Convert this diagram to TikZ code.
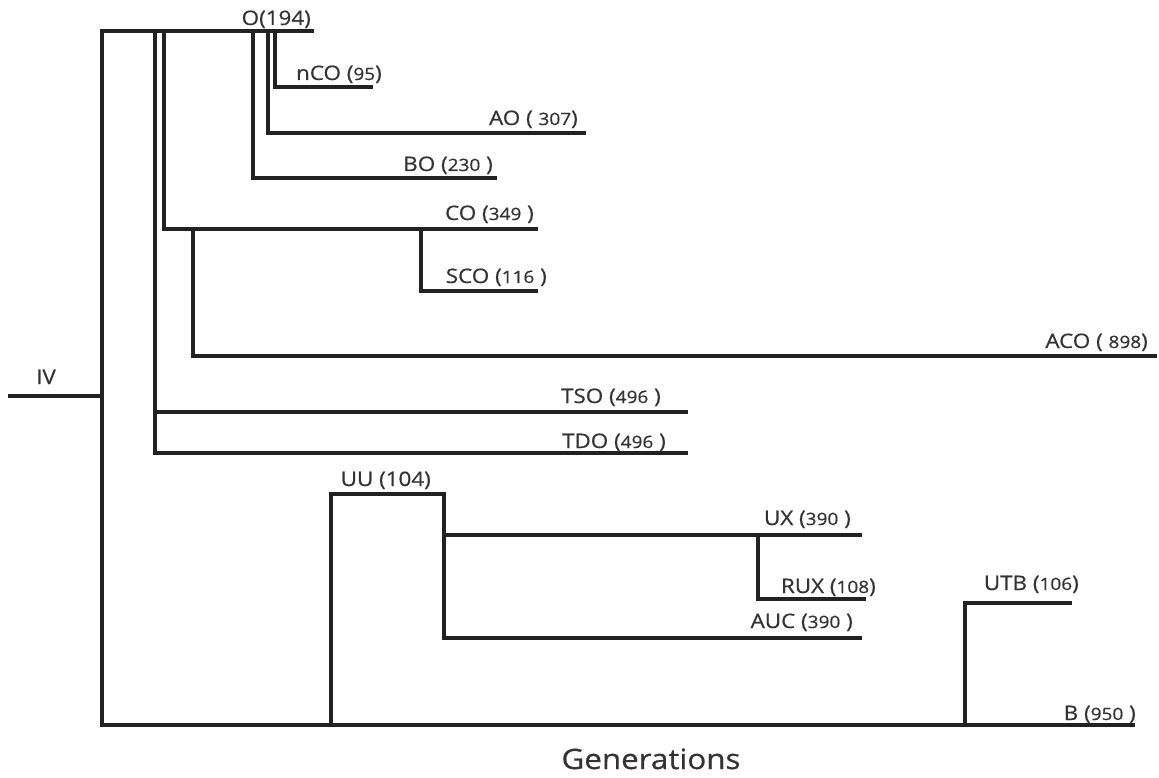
\documentclass[tikz,border=0pt]{standalone}
\usepackage{fontspec}
\setmainfont{Open Sans}
\newfontfamily\lab[FakeStretch=1.12,FakeBold=0.6]{Open Sans}
\definecolor{ln}{HTML}{222222}
\definecolor{tx}{HTML}{333333}
\newcommand{\smn}[1]{{\fontsize{17}{19}\selectfont #1}}
\begin{document}
\begin{tikzpicture}[x=1pt,y=-1pt,
  br/.style={draw=ln,line width=3.2pt,line join=miter},
  lbl/.style={font=\lab\fontsize{20}{23}\selectfont,text=tx,anchor=base east,inner sep=0pt},
  ttl/.style={font=\lab\fontsize{28}{32}\selectfont,text=tx,anchor=base,inner sep=0pt}]
\useasboundingbox (0,0) rectangle (1159,778);
% coordinates
\coordinate (ivs) at (8,396);
\coordinate (ivj) at (102,396);
\coordinate (rt) at (102,31);
\coordinate (rb) at (102,725);
\coordinate (oe) at (314,31);
\coordinate (be) at (1135,725);
\coordinate (t1) at (155,31);
\coordinate (tsoj) at (155,412);
\coordinate (tsoe) at (688,412);
\coordinate (tdoj) at (155,453);
\coordinate (tdoe) at (688,453);
\coordinate (t2) at (164,31);
\coordinate (coj) at (164,229);
\coordinate (coe) at (538,229);
\coordinate (acot) at (193,229);
\coordinate (acoj) at (193,356);
\coordinate (acoe) at (1157,356);
\coordinate (scot) at (421,229);
\coordinate (scoj) at (421,291);
\coordinate (scoe) at (538,291);
\coordinate (t3) at (253,31);
\coordinate (boj) at (253,178);
\coordinate (boe) at (497,178);
\coordinate (t4) at (268,31);
\coordinate (aoj) at (268,133);
\coordinate (aoe) at (586,133);
\coordinate (t5) at (275,31);
\coordinate (ncoj) at (275,87);
\coordinate (ncoe) at (373,87);
\coordinate (uub) at (331,725);
\coordinate (uul) at (331,494);
\coordinate (uur) at (444,494);
\coordinate (aucj) at (444,638);
\coordinate (auce) at (862,638);
\coordinate (uxj) at (444,535);
\coordinate (uxe) at (862,535);
\coordinate (ruxt) at (758,535);
\coordinate (ruxj) at (758,599);
\coordinate (ruxe) at (866,599);
\coordinate (utbb) at (965,725);
\coordinate (utbj) at (965,603);
\coordinate (utbe) at (1072,603);
% branches
\draw[br] (ivs) -- (ivj);
\draw[br] (oe) -- (rt) -- (rb) -- (be);
\draw[br] (t1) -- (tdoj) -- (tdoe);
\draw[br] (tsoj) -- (tsoe);
\draw[br] (t2) -- (coj) -- (coe);
\draw[br] (acot) -- (acoj) -- (acoe);
\draw[br] (scot) -- (scoj) -- (scoe);
\draw[br] (t3) -- (boj) -- (boe);
\draw[br] (t4) -- (aoj) -- (aoe);
\draw[br] (t5) -- (ncoj) -- (ncoe);
\draw[br] (uub) -- (uul) -- (uur) -- (aucj) -- (auce);
\draw[br] (uxj) -- (uxe);
\draw[br] (ruxt) -- (ruxj) -- (ruxe);
\draw[br] (utbb) -- (utbj) -- (utbe);
% labels
\node[lbl] (liv) at (56,384) {IV};
\node[lbl] (lo) at (311,25) {O(194)};
\node[lbl] (lnco) at (382,80) {nCO (\smn{95})};
\node[lbl] (lao) at (578,125) {AO ( \smn{307})};
\node[lbl] (lbo) at (493,171) {BO (\smn{230} )};
\node[lbl] (lco) at (534,220) {CO (\smn{349} )};
\node[lbl] (lsco) at (547,283) {SCO (\smn{116} )};
\node[lbl] (laco) at (1148,348) {ACO ( \smn{898})};
\node[lbl] (ltso) at (661,403) {TSO (\smn{496} )};
\node[lbl] (ltdo) at (666,448) {TDO (\smn{496} )};
\node[lbl] (luu) at (431,486) {UU (104)};
\node[lbl] (lux) at (851,525) {UX (\smn{390} )};
\node[lbl] (lrux) at (876,593) {RUX (\smn{108})};
\node[lbl] (lauc) at (853,628) {AUC (\smn{390} )};
\node[lbl] (lutb) at (1079,590) {UTB (\smn{106})};
\node[lbl] (lb) at (1136,720) {B (\smn{950} )};
\node[ttl] (lgen) at (651,769) {Generations};
\end{tikzpicture}
\end{document}
